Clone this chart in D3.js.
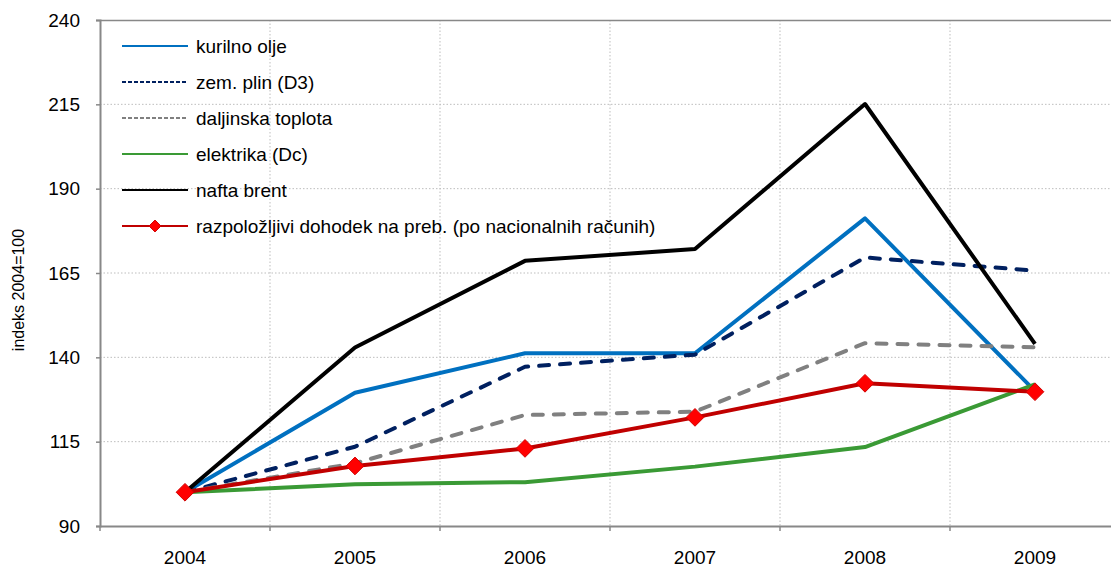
<!DOCTYPE html>
<html>
<head>
<meta charset="utf-8">
<script src="https://cdn.jsdelivr.net/npm/d3@7"></script>
<style>
  html, body { margin: 0; padding: 0; background: #fff; }
  svg text { font-family: "Liberation Sans", Arial, sans-serif; fill: #000; }
</style>
</head>
<body>
<svg id="chart" width="1111" height="568"></svg>
<script>
// Index values, 2004 = 100
const years = ["2004", "2005", "2006", "2007", "2008", "2009"];
const yTicks = [90, 115, 140, 165, 190, 215, 240];

const kurilnoOlje   = [100, 129.5, 141.2, 141.2, 181.2, 130.0];
const zemPlin       = [100, 113.5, 137.2, 140.8, 169.6, 165.7];
const daljinska     = [100, 108.6, 122.9, 123.9, 144.2, 143.0];
const elektrika     = [100, 102.4, 103.0, 107.6, 113.4, 132.0];
const naftaBrent    = [100, 142.9, 168.6, 172.1, 215.1, 144.0];
const dohodek       = [100, 107.8, 113.0, 122.2, 132.3, 129.8];

const seriesNames = [
  "kurilno olje",
  "zem. plin (D3)",
  "daljinska toplota",
  "elektrika (Dc)",
  "nafta brent",
  "razpoložljivi dohodek na preb. (po nacionalnih računih)"
];

const series = [
  { name: seriesNames[0], values: kurilnoOlje, color: "#0070c0", dash: null,    legendDash: null },
  { name: seriesNames[1], values: zemPlin,     color: "#002060", dash: "10,11", legendDash: "4,2" },
  { name: seriesNames[2], values: daljinska,   color: "#808080", dash: "10,11", legendDash: "4,2" },
  { name: seriesNames[3], values: elektrika,   color: "#3a9a35", dash: null,    legendDash: null },
  { name: seriesNames[4], values: naftaBrent,  color: "#000000", dash: null,    legendDash: null },
  { name: seriesNames[5], values: dohodek,     color: "#c00000", dash: null,    legendDash: null, marker: true }
];

const svg = d3.select("#chart");
const plotLeft = 100, plotRight = 1120, plotTop = 20, plotBottom = 526;
const labelSize = 19;

const x = d3.scaleBand().domain(years).range([plotLeft, plotRight]).padding(0);
const y = d3.scaleLinear().domain([90, 240]).range([plotBottom, plotTop]);
const cx = d => x(d) + x.bandwidth() / 2;

// Gridlines (dotted)
const grid = svg.append("g");
grid.selectAll("line.h").data(yTicks.filter(t => t > 90 && t < 240)).join("line")
  .attr("x1", plotLeft).attr("x2", plotRight)
  .attr("y1", d => y(d)).attr("y2", d => y(d))
  .attr("stroke", "#bdbdbd").attr("stroke-width", 1).attr("stroke-dasharray", "1.5,2");
grid.selectAll("line.v").data(d3.range(1, years.length + 1)).join("line")
  .attr("x1", i => plotLeft + i * x.bandwidth())
  .attr("x2", i => plotLeft + i * x.bandwidth())
  .attr("y1", plotTop).attr("y2", plotBottom)
  .attr("stroke", "#bdbdbd").attr("stroke-width", 1).attr("stroke-dasharray", "1.5,2");

// Top border of the plot area
svg.append("line").attr("x1", plotLeft).attr("x2", plotRight).attr("y1", plotTop + 0.5).attr("y2", plotTop + 0.5)
  .attr("stroke", "#888").attr("stroke-width", 1.5);

// Y axis
const yAxis = d3.axisLeft(y).tickValues(yTicks).tickSize(4).tickPadding(16);
const gy = svg.append("g").attr("transform", `translate(${plotLeft},0)`).call(yAxis);
gy.select(".domain").attr("stroke", "#888").attr("stroke-width", 2);
gy.selectAll(".tick line").attr("stroke", "#888").attr("stroke-width", 1.5);
gy.selectAll(".tick text").attr("font-size", labelSize).attr("font-family", "Liberation Sans, Arial, sans-serif");

// X axis: ticks between categories
const xAxis = d3.axisBottom(x).tickSize(0).tickPadding(25);
const gx = svg.append("g").attr("transform", `translate(0,${plotBottom})`).call(xAxis);
gx.select(".domain").attr("stroke", "#888").attr("stroke-width", 2);
gx.selectAll(".tick text").attr("font-size", labelSize).attr("font-family", "Liberation Sans, Arial, sans-serif");
svg.append("g").selectAll("line").data(d3.range(years.length + 1)).join("line")
  .attr("x1", i => plotLeft + i * x.bandwidth()).attr("x2", i => plotLeft + i * x.bandwidth())
  .attr("y1", plotBottom).attr("y2", plotBottom + 5)
  .attr("stroke", "#888").attr("stroke-width", 1.5);

// Y axis title
svg.append("text")
  .attr("transform", "translate(24,290) rotate(-90)")
  .attr("text-anchor", "middle")
  .attr("font-size", 16)
  .text("indeks 2004=100");

// Series lines
const line = d3.line().x((d, i) => cx(years[i])).y(d => y(d));
const lines = svg.append("g");
series.forEach(s => {
  lines.append("path")
    .attr("d", line(s.values))
    .attr("fill", "none")
    .attr("stroke", s.color)
    .attr("stroke-width", 4)
    .attr("stroke-linejoin", "round")
    .attr("stroke-linecap", s.dash ? "round" : "butt")
    .attr("stroke-dasharray", s.dash);
  if (s.marker) {
    lines.selectAll(null).data(s.values).join("path")
      .attr("d", d3.symbol(d3.symbolDiamond2, 200))
      .attr("transform", (d, i) => `translate(${cx(years[i])},${y(d)})`)
      .attr("fill", "#ff0000").attr("stroke", "#d00000").attr("stroke-width", 1);
  }
});

// Legend
const legend = svg.append("g");
series.forEach((s, i) => {
  const ly = 46 + i * 36;
  legend.append("line")
    .attr("x1", 122).attr("x2", 188).attr("y1", ly).attr("y2", ly)
    .attr("stroke", s.color).attr("stroke-width", 2)
    .attr("stroke-dasharray", s.legendDash);
  if (s.marker) {
    legend.append("path")
      .attr("d", d3.symbol(d3.symbolDiamond2, 90))
      .attr("transform", `translate(155,${ly})`)
      .attr("fill", "#ff0000").attr("stroke", "#d00000").attr("stroke-width", 1);
  }
  legend.append("text")
    .attr("x", 196).attr("y", ly + 7)
    .attr("font-size", labelSize)
    .text(s.name);
});
</script>
</body>
</html>
